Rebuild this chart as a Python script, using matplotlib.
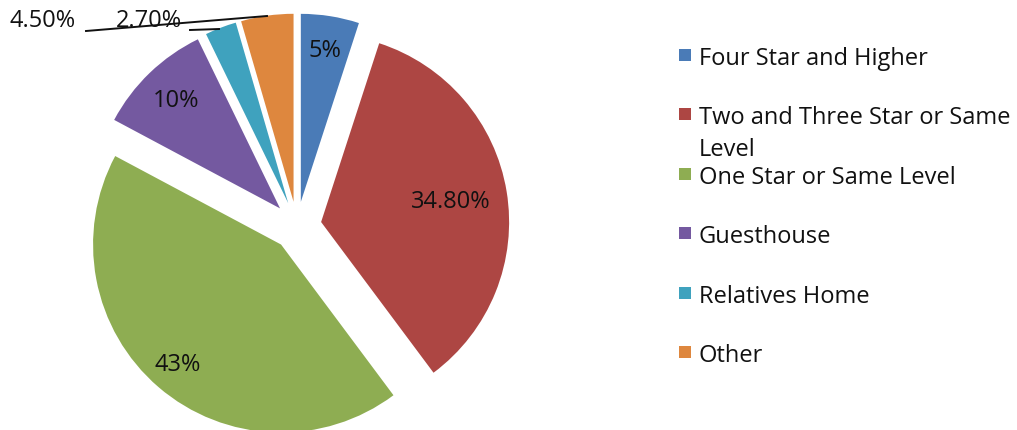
import textwrap
import numpy as np
import matplotlib
matplotlib.use("Agg")
import matplotlib.pyplot as plt
import matplotlib.patches as patches

categories = ["Four Star and Higher", "Two and Three Star or Same Level",
              "One Star or Same Level", "Guesthouse", "Relatives Home", "Other"]
shares = [5, 34.8, 43, 10, 2.7, 4.5]
colors = ["#4A7BB7", "#AD4643", "#8EAD52", "#7459A0", "#3FA2BE", "#DE873E"]

plt.rcParams['font.family'] = ['Open Sans', 'DejaVu Sans']

W, H = 1017, 431
FS = 17
fig = plt.figure(figsize=(W / 100, H / 100), dpi=100)
ax = fig.add_axes([0, 0, 1, 1])

# pie centre and radius in pixels
cx, cy, rad = 297, 227, 188

wedges, _ = ax.pie(shares, colors=colors, startangle=90, counterclock=False,
                   explode=[0.13] * len(shares), radius=1.0,
                   wedgeprops=dict(linewidth=0))

# pie() resets the limits, so set them afterwards
ax.set_xlim(-cx / rad, (W - cx) / rad)
ax.set_ylim(-(H - cy) / rad, cy / rad)
ax.set_aspect('equal')
ax.axis('off')


def pct_label(v):
    return f"{v:g}%" if float(v).is_integer() else f"{v:.2f}%"


def px(x, y):
    # pixel (top-left origin) -> data coordinates
    return (x - cx) / rad, (cy - y) / rad


# labels inside the larger wedges
inside = {0: 0.82, 1: 0.70, 2: 0.84, 3: 0.80}
for i, dist in inside.items():
    w = wedges[i]
    mid = np.deg2rad((w.theta1 + w.theta2) / 2)
    x = w.center[0] + dist * np.cos(mid)
    y = w.center[1] + dist * np.sin(mid)
    ax.text(x, y, pct_label(shares[i]), ha='center', va='center',
            fontsize=FS, color='#111111')

# small wedges get outside labels with leader lines
ax.text(*px(9, 21), pct_label(shares[5]), ha='left', va='center',
        fontsize=FS, color='#111111')
ax.plot(*zip(px(86, 32), px(267, 17)), color='#111111', lw=1.4)
ax.text(*px(116, 21), pct_label(shares[4]), ha='left', va='center',
        fontsize=FS, color='#111111')
ax.plot(*zip(px(190, 31), px(219, 30)), color='#111111', lw=1.4)

# legend drawn by hand so the wrapped entry keeps the row spacing
for i, (name, col) in enumerate(zip(categories, colors)):
    y = 56 + 59.4 * i
    fig.patches.append(patches.Rectangle((679 / W, 1 - (y + 6) / H), 12 / W, 12 / H,
                                         transform=fig.transFigure, facecolor=col,
                                         edgecolor='none'))
    for k, line in enumerate(textwrap.wrap(name, 26)):
        fig.text(699 / W, 1 - (y + 32 * k) / H, line, ha='left',
                 va='center_baseline', fontsize=FS, color='#111111')

fig.savefig("out.png", dpi=100, facecolor='white')
